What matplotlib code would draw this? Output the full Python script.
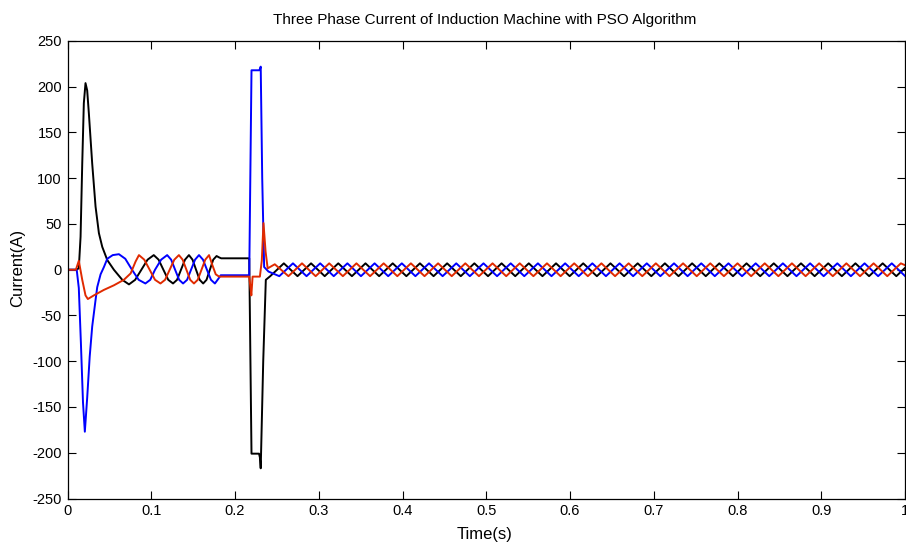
import matplotlib
matplotlib.use("Agg")
import matplotlib.pyplot as plt

plt.rcParams['font.family'] = ['Liberation Sans', 'DejaVu Sans']
plt.rcParams['axes.unicode_minus'] = False

# ---------------- data (time in s, current in A) ----------------
black_tr_t = [0.0, 0.010, 0.0135, 0.0156, 0.0176, 0.0195, 0.0215, 0.0235, 0.0255, 0.0295,
              0.0335, 0.0375, 0.0415, 0.0475, 0.0554, 0.0654, 0.0734, 0.0808, 0.0882, 0.0956,
              0.1030, 0.1088, 0.1145, 0.1203, 0.1260, 0.1308, 0.1355, 0.1403, 0.1450, 0.1493,
              0.1535, 0.1578, 0.1620, 0.1660, 0.1700, 0.1740, 0.1780, 0.1810, 0.1835, 0.2170,
              0.2197, 0.2287, 0.2297, 0.2307, 0.2337, 0.2368]
black_tr_i = [0, 0, 1.5, 36, 116, 182, 204, 196, 171, 116,
              69, 40, 25, 10.6, 0, -11, -16, -11, 0, 11,
              16, 11, 0, -11, -15, -11, 0, 11, 16, 11,
              0, -11, -15, -11, 0, 11, 15, 13.5, 12.5, 12.5,
              -201, -201, -205, -217, -100, -11]

blue_tr_t = [0.0, 0.011, 0.0135, 0.0160, 0.0185, 0.0207, 0.0235, 0.0265, 0.0295, 0.0335,
             0.0355, 0.0395, 0.0435, 0.0475, 0.0540, 0.0614, 0.0690, 0.0770, 0.0850, 0.0930,
             0.0988, 0.1045, 0.1118, 0.1190, 0.1238, 0.1285, 0.1333, 0.1380, 0.1428, 0.1475,
             0.1523, 0.1570, 0.1618, 0.1665, 0.1713, 0.1760, 0.1800, 0.1830, 0.2170, 0.2197,
             0.2290, 0.2300, 0.2307, 0.2325, 0.2348, 0.2400]
blue_tr_i = [0, 0, -20, -80, -145, -177, -140, -95, -62, -33,
             -19, -5, 3, 12, 16, 17, 12, 0, -11, -15,
             -11, 0, 11, 16, 11, 0, -11, -15, -11, 0,
             11, 16, 11, 0, -11, -15, -10, -6, -6, 218,
             218, 220, 222, 100, 3, -2]

red_tr_t = [0.0, 0.010, 0.0135, 0.0176, 0.0215, 0.0243, 0.0315, 0.0435, 0.0554, 0.0673,
            0.0754, 0.0813, 0.0853, 0.0917, 0.0981, 0.1045, 0.1110, 0.1165, 0.1220, 0.1275,
            0.1330, 0.1375, 0.1420, 0.1465, 0.1510, 0.1555, 0.1600, 0.1645, 0.1690, 0.1730,
            0.1770, 0.1810, 0.2170, 0.2185, 0.2195, 0.2210, 0.2297, 0.2320, 0.2340, 0.2365,
            0.2390, 0.2475]
red_tr_i = [0, 0, 9.8, -11, -28, -32, -28, -22, -17, -11,
            -4, 9, 16, 11, 0, -11, -15, -11, 0, 11,
            16, 11, 0, -11, -15, -11, 0, 11, 16, 5,
            -5, -7.5, -7.5, -20, -28, -7.5, -7.5, 10, 51, 20,
            1.5, 6]

# steady state: peak / trough points
black_ss_t = [0.2421, 0.2583, 0.2746, 0.2908, 0.3071, 0.3233, 0.3396, 0.3558, 0.3721, 0.3883,
              0.4046, 0.4208, 0.4371, 0.4533, 0.4696, 0.4858, 0.5021, 0.5183, 0.5346, 0.5508,
              0.5671, 0.5833, 0.5996, 0.6158, 0.6321, 0.6483, 0.6646, 0.6808, 0.6971, 0.7133,
              0.7296, 0.7458, 0.7621, 0.7783, 0.7946, 0.8108, 0.8271, 0.8433, 0.8596, 0.8758,
              0.8921, 0.9083, 0.9246, 0.9408, 0.9571, 0.9733, 0.9896, 1.0]
black_ss_i = [-7, 7, -7, 7, -7, 7, -7, 7, -7, 7,
              -7, 7, -7, 7, -7, 7, -7, 7, -7, 7,
              -7, 7, -7, 7, -7, 7, -7, 7, -7, 7,
              -7, 7, -7, 7, -7, 7, -7, 7, -7, 7,
              -7, 7, -7, 7, -7, 7, -7, 2]

blue_ss_t = [0.2529, 0.2692, 0.2854, 0.3017, 0.3179, 0.3342, 0.3504, 0.3667, 0.3829, 0.3992,
             0.4154, 0.4317, 0.4479, 0.4642, 0.4804, 0.4967, 0.5129, 0.5292, 0.5454, 0.5617,
             0.5779, 0.5942, 0.6104, 0.6267, 0.6429, 0.6592, 0.6754, 0.6917, 0.7079, 0.7242,
             0.7404, 0.7567, 0.7729, 0.7892, 0.8054, 0.8217, 0.8379, 0.8542, 0.8704, 0.8867,
             0.9029, 0.9192, 0.9354, 0.9517, 0.9679, 0.9842, 1.0]
blue_ss_i = [-7, 7, -7, 7, -7, 7, -7, 7, -7, 7,
             -7, 7, -7, 7, -7, 7, -7, 7, -7, 7,
             -7, 7, -7, 7, -7, 7, -7, 7, -7, 7,
             -7, 7, -7, 7, -7, 7, -7, 7, -7, 7,
             -7, 7, -7, 7, -7, 7, -6.8]

red_ss_t = [0.2638, 0.2800, 0.2963, 0.3125, 0.3288, 0.3450, 0.3613, 0.3775, 0.3938, 0.4100,
            0.4263, 0.4425, 0.4588, 0.4750, 0.4913, 0.5075, 0.5238, 0.5400, 0.5563, 0.5725,
            0.5888, 0.6050, 0.6213, 0.6375, 0.6538, 0.6700, 0.6863, 0.7025, 0.7188, 0.7350,
            0.7513, 0.7675, 0.7838, 0.8000, 0.8163, 0.8325, 0.8488, 0.8650, 0.8813, 0.8975,
            0.9138, 0.9300, 0.9463, 0.9625, 0.9788, 0.9950, 1.0]
red_ss_i = [-7, 7, -7, 7, -7, 7, -7, 7, -7, 7,
            -7, 7, -7, 7, -7, 7, -7, 7, -7, 7,
            -7, 7, -7, 7, -7, 7, -7, 7, -7, 7,
            -7, 7, -7, 7, -7, 7, -7, 7, -7, 7,
            -7, 7, -7, 7, -7, 7, 5]

x_ticks = [0, 0.1, 0.2, 0.3, 0.4, 0.5, 0.6, 0.7, 0.8, 0.9, 1]
x_tick_labels = ['0', '0.1', '0.2', '0.3', '0.4', '0.5', '0.6', '0.7', '0.8', '0.9', '1']
y_ticks = [-250, -200, -150, -100, -50, 0, 50, 100, 150, 200, 250]

title = 'Three Phase Current of Induction Machine with PSO Algorithm'
xlabel = 'Time(s)'
ylabel = 'Current(A)'

# ---------------- figure ----------------
W, H = 906, 547
fig = plt.figure(figsize=(W / 100, H / 100), dpi=100)
ax = fig.add_axes([67.5 / W, 1 - 498.5 / H, (905 - 67.5) / W, (498.5 - 41) / H])

lw = 1.4
ax.plot(black_tr_t + black_ss_t, black_tr_i + black_ss_i, color='#000000', lw=lw,
        solid_joinstyle='round')
ax.plot(blue_tr_t + blue_ss_t, blue_tr_i + blue_ss_i, color='#0000FF', lw=lw,
        solid_joinstyle='round')
ax.plot(red_tr_t + red_ss_t, red_tr_i + red_ss_i, color='#E02A00', lw=lw,
        solid_joinstyle='round')

ax.set_xlim(0, 1)
ax.set_ylim(-250, 250)
ax.set_xticks(x_ticks)
ax.set_xticklabels(x_tick_labels)
ax.set_yticks(y_ticks)
ax.tick_params(direction='in', length=6, width=0.8, top=True, right=True,
               labelsize=10.5, pad=4, colors='black')
for s in ax.spines.values():
    s.set_linewidth(0.9)
    s.set_color('black')

fig.text(485 / W, 1 - 20 / H, title, ha='center', va='center', fontsize=11)
fig.text(485 / W, 1 - 535 / H, xlabel, ha='center', va='center', fontsize=12)
fig.text(18 / W, 1 - 268 / H, ylabel, ha='center', va='center', rotation=90, fontsize=12)

fig.savefig('out.png', dpi=100)
